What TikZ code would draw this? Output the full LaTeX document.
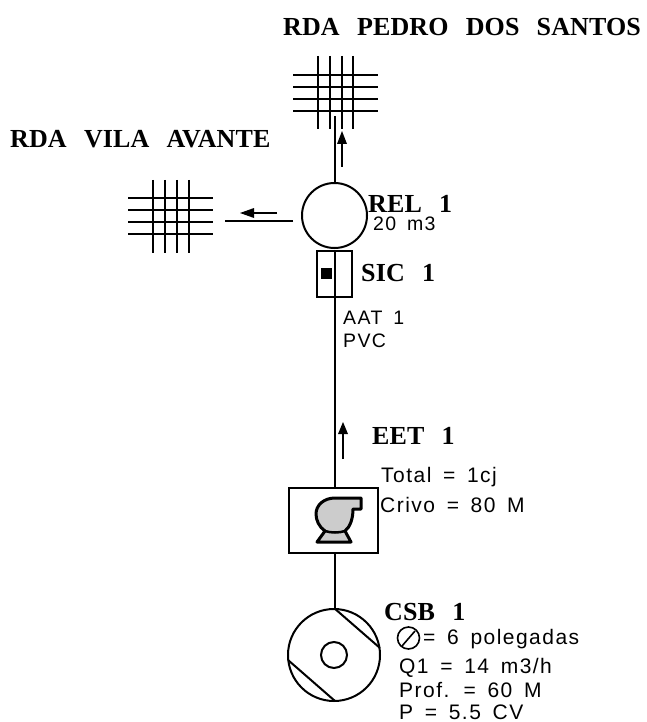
\documentclass[tikz,border=0pt]{standalone}
\usepackage{fontspec}
\setmainfont{Liberation Serif}
\setsansfont{Liberation Sans}
\newfontfamily\titlef[LetterSpace=0.5,WordSpace=2.6]{Liberation Serif Bold}
\newfontfamily\cadf[LetterSpace=7,WordSpace=1.6]{Liberation Sans}
\begin{document}
\begin{tikzpicture}[x=1pt,y=-1pt,
  wire/.style={line width=2pt,draw=black,line cap=butt},
  gridline/.style={line width=1.5pt,draw=black},
  flow/.style={line width=1.6pt,draw=black},
  head/.style={fill=black,draw=none},
  title/.style={inner sep=0pt,anchor=base west,font=\titlef\fontsize{26}{26}\selectfont},
  small/.style={inner sep=0pt,anchor=base west,font=\cadf\fontsize{21}{21}\selectfont},
  smaller/.style={inner sep=0pt,anchor=base west,font=\cadf\fontsize{19.5}{19.5}\selectfont}]
\useasboundingbox (0,0) rectangle (646,722);
\fill[white] (0,0) rectangle (646,722);

% top grid
\foreach \x in {318,330,342,353} \draw[gridline] (\x,56) -- (\x,129);
\foreach \y in {75,87,99,111} \draw[gridline] (293,\y) -- (378,\y);
% left grid
\foreach \x in {153,165,177,189} \draw[gridline] (\x,180) -- (\x,253);
\foreach \y in {198,210,222,234} \draw[gridline] (128,\y) -- (213,\y);

% nodes
\node[circle,draw,line width=2pt,minimum size=65pt,inner sep=0pt] (rel) at (334.5,215.5) {};
\node[draw,line width=2pt,minimum width=35pt,minimum height=46pt,inner sep=0pt] (sic) at (334.5,274) {};
\node[draw,line width=2pt,minimum width=89pt,minimum height=65pt,inner sep=0pt] (eet) at (333.5,520.8) {};
\node[circle,draw,line width=2pt,minimum size=92pt,inner sep=0pt] (csb) at (334,655) {};
\node[circle,draw,line width=2pt,minimum size=26pt,inner sep=0pt] (csbin) at (334,655) {};
\coordinate (topend) at (334.5,116);
\coordinate (leftend) at (225,221);
\coordinate (leftstart) at (293,221);

% connectors
\draw[wire] (rel.north) -- (topend);
\draw[wire] (leftstart) -- (leftend);
\draw[wire] (sic.north) -- (sic.south);
\draw[wire] (sic.south) -- (sic.south |- eet.north);
\draw[wire] (sic.south |- eet.south) -- (sic.south |- csb.north);

% flow arrows
\draw[flow] (342,167) -- (342,140);
\fill[head] (342,131) -- (347,144) -- (337,144) -- cycle;
\draw[flow] (277,213) -- (250,213);
\fill[head] (240,213) -- (254,208) -- (254,218) -- cycle;
\draw[flow] (343,459) -- (343,430);
\fill[head] (343,422) -- (348,434) -- (338,434) -- cycle;

% sic marker
\fill (321,268) rectangle (332,279);

% csb chords
\draw[wire] (csb.north) -- (380,648);
\draw[wire] (288,660) -- (335,701);

% pump icon
\draw[line width=3pt,fill=black!20,line join=round]
  (361,498) -- (361,509) -- (353,509)
  .. controls (353,519) and (350,527) .. (345,531)
  -- (351,542) -- (317,542) -- (325,531)
  .. controls (319,527) and (316,520) .. (316,514)
  .. controls (316,505) and (324,498) .. (335,498) -- cycle;
\draw[line width=2.5pt] (325,531) .. controls (331,533) and (339,533) .. (345,531);

% diameter symbol
\draw[line width=1.6pt] (408.5,638) circle (11);
\draw[line width=1.6pt] (402,646) -- (415,631);

% labels
\node[title] (t1) at (283,36) {RDA PEDRO DOS SANTOS};
\node[title] (t2) at (10,148) {RDA VILA AVANTE};
\node[title] (t3) at (368,212) {REL 1};
\node[title] (t4) at (361,281) {SIC 1};
\node[title] (t5) at (372,444) {EET 1};
\node[title] (t6) at (384,620) {CSB 1};
\node[smaller] (s1) at (373,230) {20 m3};
\node[smaller] (s2) at (343,324) {AAT 1};
\node[smaller] (s3) at (343,347) {PVC};
\node[small] (s4) at (381,482) {Total = 1cj};
\node[small] (s5) at (380,512) {Crivo = 80 M};
\node[small] (s6) at (423,644) {= 6 polegadas};
\node[small] (s7) at (399,673) {Q1 = 14 m3/h};
\node[small] (s8) at (399,697) {Prof. = 60 M};
\node[small] (s9) at (399,719) {P = 5.5 CV};
\end{tikzpicture}
\end{document}
